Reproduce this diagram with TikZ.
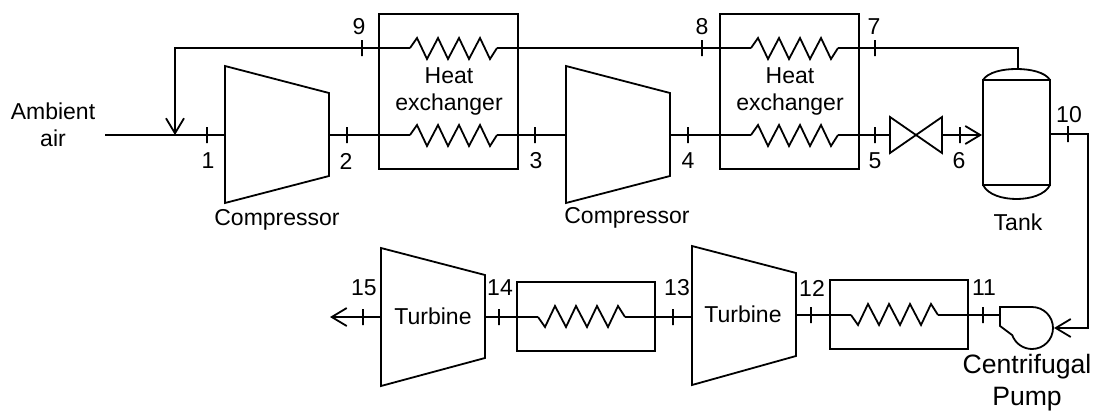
\documentclass[tikz,border=0pt]{standalone}
\usepackage{fontspec}
\setmainfont{Liberation Sans}
\usetikzlibrary{arrows.meta,positioning,calc}
\tikzset{
  every picture/.style={line width=1.8pt,x=1pt,y=-1pt,line join=miter},
  sLabel/.style={font=\fontsize{23}{27}\selectfont,inner sep=0pt,align=center},
  sPump/.style={font=\fontsize{26.6}{32}\selectfont,inner sep=0pt,align=center},
  sTick/.style={draw,line width=1.6pt,minimum width=0pt,minimum height=16pt,inner sep=0pt},
  sFlow/.style={-{Straight Barb[length=15pt,width=18pt,line width=1.8pt]}},
}
% coil around a centre, four teeth; #2 is the side it starts to
\newcommand{\hxcoil}[2]{\draw ($(#1)+(-43.5,0)$) -- ++(7,#2*10) -- ++(10,-#2*21) -- ++(11,#2*21) -- ++(10,-#2*21) -- ++(11,#2*21) -- ++(10,-#2*21) -- ++(11,#2*21) -- ++(10,-#2*21) -- ++(7,#2*11);}
\begin{document}
\begin{tikzpicture}
\useasboundingbox (0,0) rectangle (1096,410);
% equipment
\draw (225,66) -- (329,93) -- (329,176) -- (225,203) -- cycle;
\draw (566,66) -- (670,93) -- (670,176) -- (566,203) -- cycle;
\draw (381,248) -- (485,275) -- (485,358) -- (381,386) -- cycle;
\draw (692,246) -- (796,273) -- (796,356) -- (692,385) -- cycle;
\node[draw,minimum width=139pt,minimum height=155pt,inner sep=0pt] (hxa) at (448.5,91.5) {};
\node[draw,minimum width=139pt,minimum height=155pt,inner sep=0pt] (hxb) at (789.5,91.5) {};
\node[draw,minimum width=138pt,minimum height=69pt,inner sep=0pt] (hxc) at (586,316.5) {};
\node[draw,minimum width=138pt,minimum height=69pt,inner sep=0pt] (hxd) at (899,314.5) {};
\draw (983,80) rectangle (1050,185);
\draw (983,80) .. controls (988,72) and (1003,69) .. (1016.5,69) .. controls (1030,69) and (1045,72) .. (1050,80);
\draw (983,185) .. controls (988,195) and (1003,199) .. (1016.5,199) .. controls (1030,199) and (1045,195) .. (1050,185);
\draw (890,117) -- (942,153) -- (942,117) -- (890,153) -- cycle;
\draw (1000,326) -- (1000,307) -- (1032,307) arc[start angle=-90,end angle=160,radius=21] -- cycle;
% coils
\coordinate (ca) at (453.5,48); \coordinate (cb) at (453.5,135);
\coordinate (cc) at (794.5,48); \coordinate (cd) at (794.5,135);
\coordinate (ce) at (581.5,317); \coordinate (cf) at (894.5,315);
\hxcoil{ca}{-1} \hxcoil{cb}{-1} \hxcoil{cc}{-1} \hxcoil{cd}{-1} \hxcoil{ce}{1} \hxcoil{cf}{1}
% pipes
\coordinate (airin) at (105,135);
\draw (airin) -- (225,135);
\draw (329,135) -- ($(cb)+(-43.5,0)$);
\draw ($(cb)+(43.5,0)$) -- (566,135);
\draw (670,135) -- ($(cd)+(-43.5,0)$);
\draw ($(cd)+(43.5,0)$) -- (890,135);
\draw[sFlow] (942,135) -- (982,135);
\draw (1018,69) -- (1018,48) -- ($(cc)+(43.5,0)$);
\draw ($(cc)+(-43.5,0)$) -- ($(ca)+(43.5,0)$);
\draw[sFlow] ($(ca)+(-43.5,0)$) -- (175,48) -- (175,135);
\draw[sFlow] (1050,134) -- (1088,134) -- (1088,328) -- (1054,328);
\draw (1000,315) -- ($(cf)+(43.5,0)$);
\draw ($(cf)+(-43.5,0)$) -- (796,315);
\draw (692,317) -- ($(ce)+(43.5,0)$);
\draw ($(ce)+(-43.5,0)$) -- (485,317);
\draw[sFlow] (381,317) -- (330,317);
% state points
\foreach \tname/\tx/\ty in {1/207/135,2/347/135,3/535/135,4/688/135,5/875/135,6/960/135,7/875/48,8/702/48,9/362/48,10/1068/134,11/983/315,12/811/315,13/673/317,14/499/317,15/363/317}
  \node[sTick] (s\tname) at (\tx,\ty) {};
\node[sLabel] (n1) at (208,161) {1}; \node[sLabel] (n2) at (346,161) {2};
\node[sLabel] (n3) at (536,161) {3}; \node[sLabel] (n4) at (688,161) {4};
\node[sLabel] (n5) at (875,161) {5}; \node[sLabel] (n6) at (959,161) {6};
\node[sLabel] (n7) at (874,27) {7}; \node[sLabel] (n8) at (702,27) {8}; \node[sLabel] (n9) at (359,27) {9};
\node[sLabel] (n10) at (1069,115) {10}; \node[sLabel] (n11) at (984,288) {11}; \node[sLabel] (n12) at (812,288) {12};
\node[sLabel] (n13) at (677,288) {13}; \node[sLabel] (n14) at (500,288) {14}; \node[sLabel] (n15) at (364,288) {15};
% names
\node[sLabel] (amb) at (53,125) {Ambient\\air};
\node[sLabel] (hxal) at (449,91) {Heat\\exchanger};
\node[sLabel] (hxbl) at (790,91) {Heat\\exchanger};
\node[sLabel] (coma) at (277,220) {Compressor};
\node[sLabel] (comb) at (627,218) {Compressor};
\node[sLabel] (tank) at (1018,222) {Tank};
\node[sLabel] (tura) at (433,316) {Turbine};
\node[sLabel] (turb) at (743,314) {Turbine};
\node[sPump] (pump) at (1027,383) {Centrifugal\\Pump};
\end{tikzpicture}
\end{document}
